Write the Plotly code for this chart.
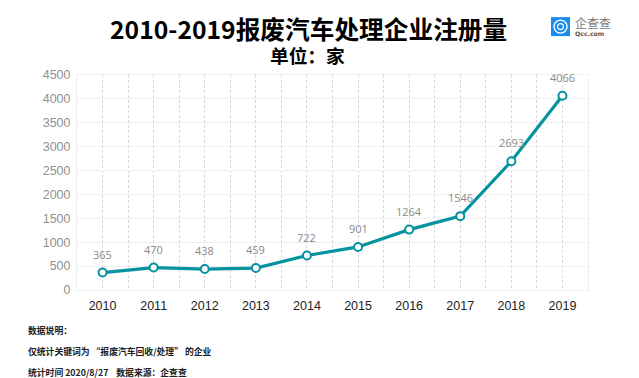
import plotly.graph_objects as go

years = ["2010","2011","2012","2013","2014","2015","2016","2017","2018","2019"]
values = [365,470,438,459,722,901,1264,1546,2693,4066]
y_ticks = [0,500,1000,1500,2000,2500,3000,3500,4000,4500]
title_text = "2010-2019报废汽车处理企业注册量"
unit_text = "单位：家"
note_lines = ["数据说明：", "仅统计关键词为 “报废汽车回收/处理” 的企业", "统计时间 2020/8/27    数据来源：企查查"]

CJK = "Noto Sans CJK SC"
W, H = 639, 378
L, R, T, B = 77, 588, 75, 290.5
TEAL = "#05939f"

def fx(x):
    return (x - L) / (R - L)
def fy(y):
    return (B - y) / (B - T)

half_steps = [i * 0.5 - 0.5 for i in range(21)]
tick_labels = [years[int(v)] if v == int(v) and 0 <= v <= 9 else "" for v in half_steps]

fig = go.Figure()
fig.add_trace(go.Scatter(
    x=list(range(len(years))), y=values, mode="lines+markers",
    line=dict(color=TEAL, width=3.2),
    marker=dict(size=8, color="white", line=dict(color=TEAL, width=2)),
    hoverinfo="skip", showlegend=False, cliponaxis=False,
))

anns = []
for i, v in enumerate(values):
    anns.append(dict(x=i, y=v, xref="x", yref="y", text=str(v), showarrow=False,
                     yshift=18.5, font=dict(family="Open Sans", size=11, color="#8a8a8a")))
def px(x, y, text, size, color="#000", family=CJK, anchor="left"):
    return dict(x=fx(x), y=fy(y), xref="paper", yref="paper", text=text, showarrow=False,
                xanchor=anchor, yanchor="middle", font=dict(family=family, size=size, color=color))
anns.append(px(308, 28, f"<b>{title_text}</b>", 24.7, anchor="center"))
anns.append(px(307.5, 54, f"<b>{unit_text}</b>", 18.7, anchor="center"))
note_y = [331, 352, 373]
for ln, yy in zip(note_lines, note_y):
    anns.append(px(25.5, yy, f"<b>{ln}</b>", 8.8, color="#222"))
anns.append(px(572.5, 22.5, "企查查", 12, color="#777"))
anns.append(px(572.5, 33, "<b>Qcc.com</b>", 6.2, color="#555", family="DejaVu Sans"))

def box(x0, y0, x1, y1, **kw):
    return dict(xref="paper", yref="paper", x0=fx(x0), x1=fx(x1), y0=fy(y1), y1=fy(y0), **kw)
shapes = [
    box(551, 17, 570, 36, type="rect", fillcolor="#1a8cf0", line=dict(width=0)),
    box(554, 20, 567, 33, type="circle", fillcolor="rgba(0,0,0,0)", line=dict(color="white", width=1.4)),
    box(557.5, 23.5, 563.5, 29.5, type="circle", fillcolor="rgba(0,0,0,0)", line=dict(color="white", width=1.2)),
]

fig.update_layout(
    width=W, height=H, autosize=False,
    paper_bgcolor="white", plot_bgcolor="white",
    margin=dict(l=L, r=W - R, t=T, b=H - B, pad=0),
    annotations=anns, shapes=shapes, showlegend=False,
    xaxis=dict(range=[-0.5, 9.5], tickmode="array", tickvals=half_steps, ticktext=tick_labels,
               showgrid=True, gridcolor="#d9d9d9", griddash="3px,2px", gridwidth=1,
               zeroline=False, showline=True, linecolor="#efefef", linewidth=1, mirror=True,
               ticks="", ticklabelstandoff=4, tickfont=dict(family="Liberation Sans", size=12.5, color="#222")),
    yaxis=dict(range=[0, 4500], tickmode="array", tickvals=y_ticks,
               showgrid=True, gridcolor="#efefef", griddash="solid", gridwidth=1,
               zeroline=False, showline=True, linecolor="#efefef", linewidth=1, mirror=True,
               ticks="", ticklabelstandoff=3, tickfont=dict(family="Liberation Sans", size=12.5, color="#8f8f8f")),
)
fig.write_html("out.html", config=dict(displayModeBar=False),
               post_script="document.body.style.margin='0';document.body.style.overflow='hidden';")
